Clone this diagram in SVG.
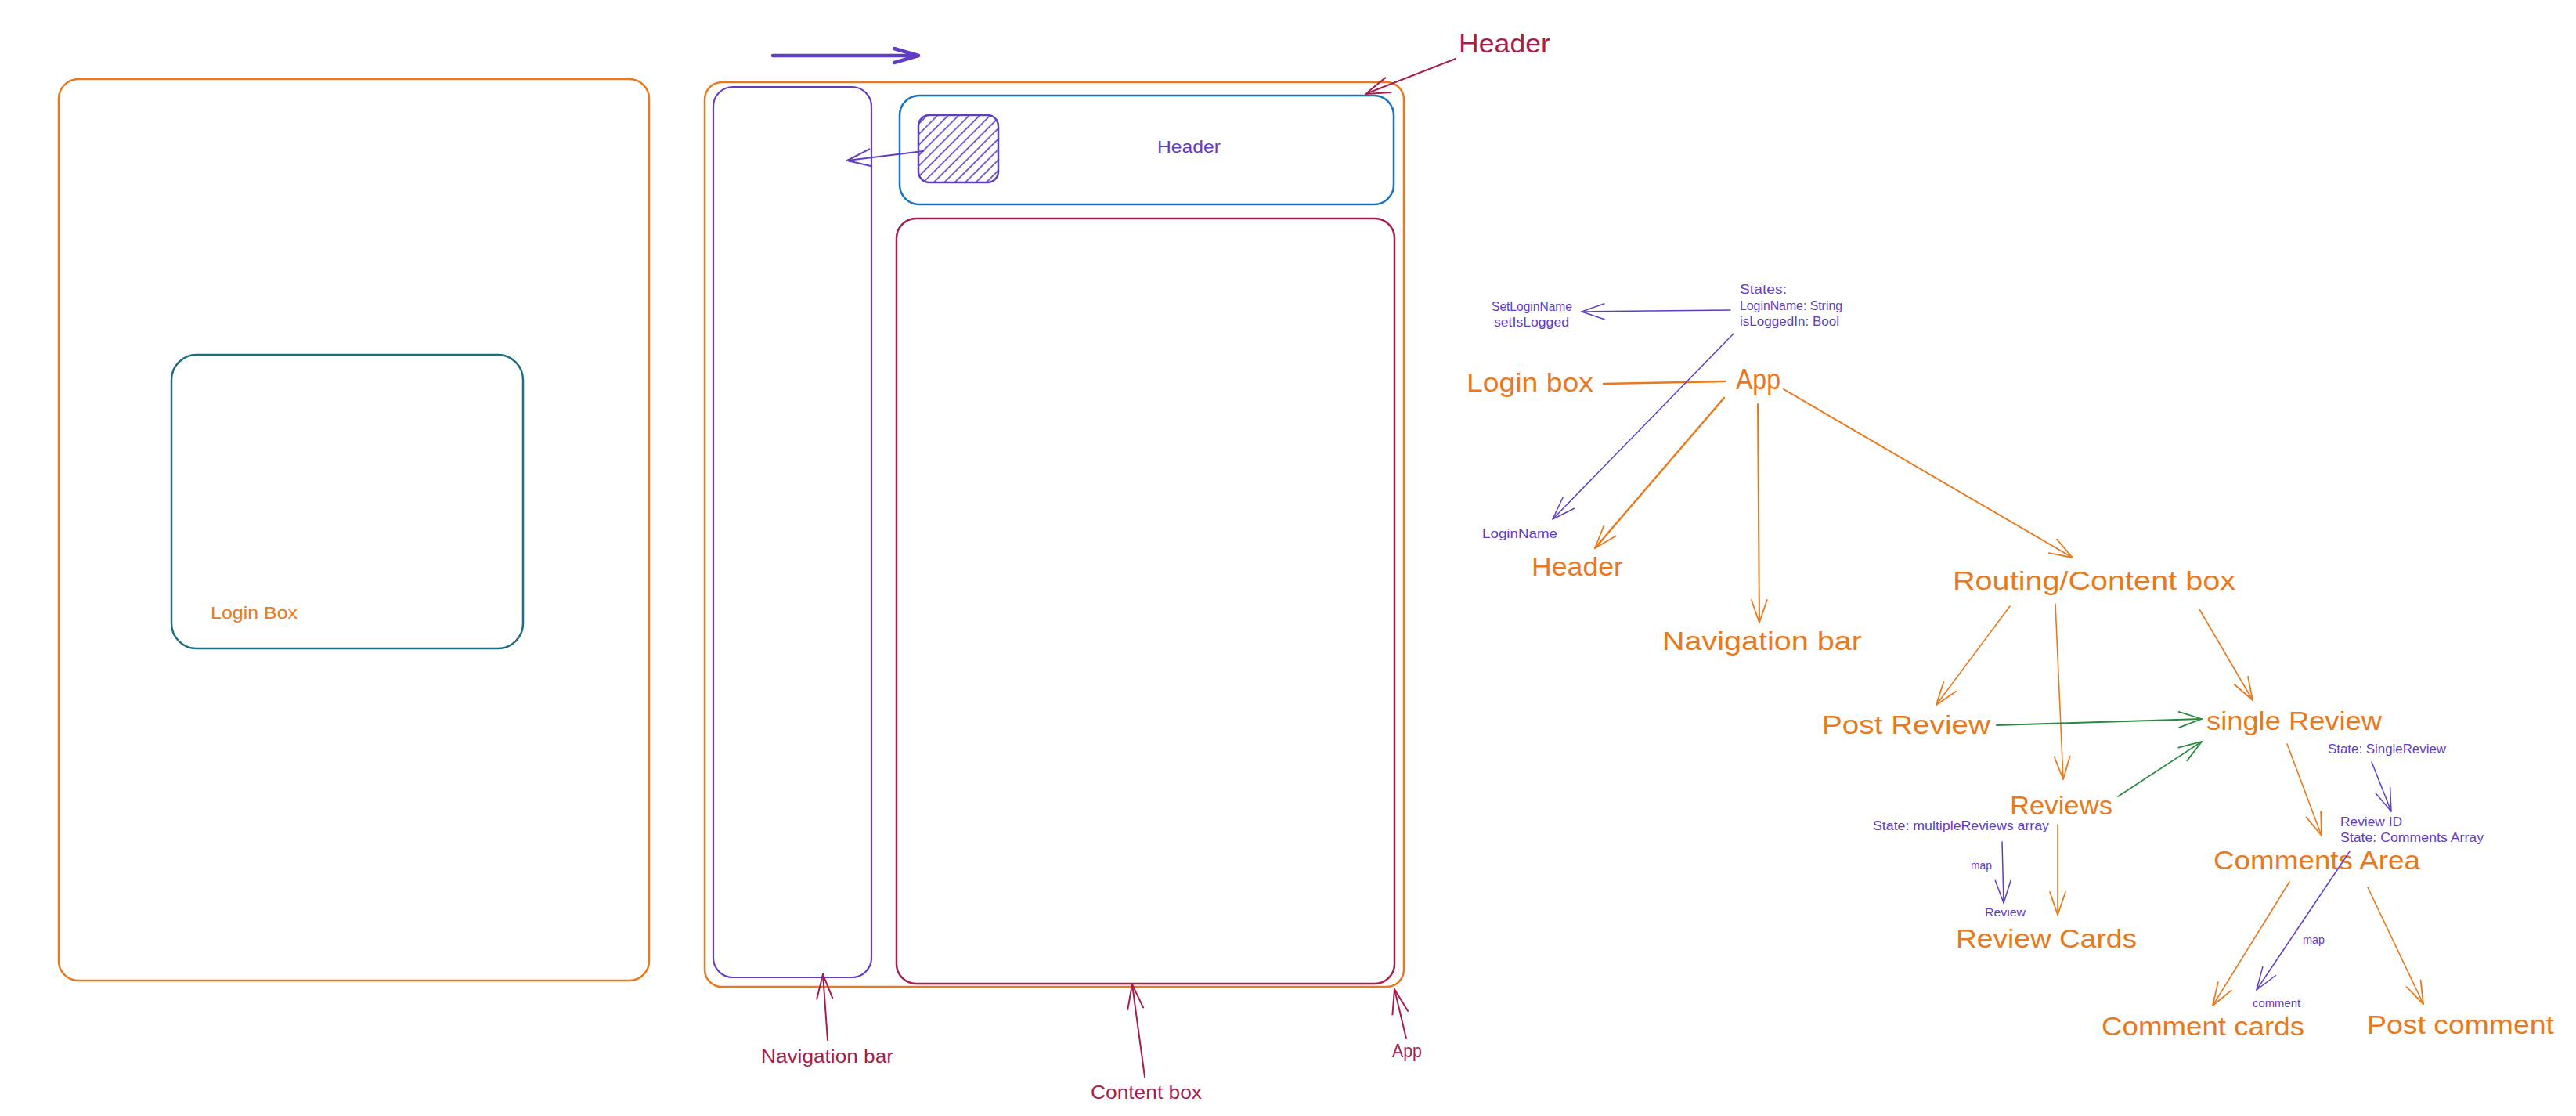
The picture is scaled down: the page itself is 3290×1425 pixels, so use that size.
<svg xmlns="http://www.w3.org/2000/svg" width="3290" height="1425" viewBox="0 0 3290 1425">
<style>
text{font-family:"Liberation Sans","Noto Sans",Arial,sans-serif}
.box{fill:none;stroke-linejoin:round}
.or{stroke:#e8791d}.vi{stroke:#5f3dc4}.cr{stroke:#a61e4d}.bl{stroke:#1971c2}.te{stroke:#1c6e80}.gr{stroke:#2b8a3e}
.c{fill:none;stroke-linecap:round;stroke-linejoin:round}
.tO{fill:#e8791d}.tV{fill:#5f3dc4}.tC{fill:#a61e4d}
.big{font-size:34px}.mid{font-size:24px}.sm{font-size:17px}.xs{font-size:14px}
</style>
<defs>
<pattern id="hatch" patternUnits="userSpaceOnUse" width="9.5" height="9.5" patternTransform="rotate(45)">
<line x1="1" y1="0" x2="1" y2="9.5" stroke="#5f3dc4" stroke-width="1.6"/>
</pattern>
<marker id="aO" markerUnits="userSpaceOnUse" markerWidth="60" markerHeight="40" viewBox="-40 -20 60 40" refX="0" refY="0" orient="auto" overflow="visible"><path d="M-29,-10 L0,0 L-29,10" fill="none" stroke="#e8791d" stroke-width="1.8" stroke-linecap="round" stroke-linejoin="round"/></marker>
<marker id="aV" markerUnits="userSpaceOnUse" markerWidth="60" markerHeight="40" viewBox="-40 -20 60 40" refX="0" refY="0" orient="auto" overflow="visible"><path d="M-29,-10 L0,0 L-29,10" fill="none" stroke="#5f3dc4" stroke-width="1.5" stroke-linecap="round" stroke-linejoin="round"/></marker>
<marker id="aVb" markerUnits="userSpaceOnUse" markerWidth="60" markerHeight="40" viewBox="-40 -20 60 40" refX="0" refY="0" orient="auto" overflow="visible"><path d="M-31,-9 L0,0 L-31,9" fill="none" stroke="#5f3dc4" stroke-width="4.5" stroke-linecap="round" stroke-linejoin="round"/></marker>
<marker id="aV2" markerUnits="userSpaceOnUse" markerWidth="60" markerHeight="40" viewBox="-40 -20 60 40" refX="0" refY="0" orient="auto" overflow="visible"><path d="M-30,-11 L0,0 L-30,11" fill="none" stroke="#5f3dc4" stroke-width="2" stroke-linecap="round" stroke-linejoin="round"/></marker>
<marker id="aC" markerUnits="userSpaceOnUse" markerWidth="60" markerHeight="40" viewBox="-40 -20 60 40" refX="0" refY="0" orient="auto" overflow="visible"><path d="M-31,-10 L0,0 L-31,10" fill="none" stroke="#a61e4d" stroke-width="2" stroke-linecap="round" stroke-linejoin="round"/></marker>
<marker id="aG" markerUnits="userSpaceOnUse" markerWidth="60" markerHeight="40" viewBox="-40 -20 60 40" refX="0" refY="0" orient="auto" overflow="visible"><path d="M-29,-10 L0,0 L-29,10" fill="none" stroke="#2b8a3e" stroke-width="1.8" stroke-linecap="round" stroke-linejoin="round"/></marker>
</defs>
<rect width="3290" height="1425" fill="#ffffff"/>

<!-- Left panel -->
<g id="login-page">
<rect class="box or" x="75" y="101" width="754" height="1151" rx="25" stroke-width="2.5"/>
</g>
<g id="login-box">
<rect class="box te" x="219" y="453" width="449" height="375" rx="32" stroke-width="2.5"/>
<text class="tO" x="269" y="790" font-size="22" textLength="111" lengthAdjust="spacingAndGlyphs">Login Box</text>
</g>

<!-- Middle panel -->
<g id="app-frame">
<rect class="box or" x="900" y="105" width="893" height="1155" rx="22" stroke-width="2.5"/>
</g>
<g id="nav-frame">
<rect class="box vi" x="911" y="111" width="202" height="1137" rx="25" stroke-width="2.2"/>
</g>
<g id="header-frame">
<rect class="box bl" x="1149" y="122" width="631" height="139" rx="25" stroke-width="2.5"/>
<text class="tV" x="1478" y="195" font-size="22" textLength="81" lengthAdjust="spacingAndGlyphs">Header</text>
</g>
<g id="hatch-button">
<rect x="1173" y="147" width="102" height="86" rx="14" fill="url(#hatch)" stroke="#5f3dc4" stroke-width="2.5"/>
</g>
<g id="content-frame">
<rect class="box cr" x="1145" y="279" width="636" height="977" rx="25" stroke-width="2.5"/>
</g>
<g id="label-header"><text class="tC" x="1863" y="67" font-size="34" textLength="117" lengthAdjust="spacingAndGlyphs">Header</text></g>
<g id="label-navigation"><text class="tC" x="972" y="1357" font-size="24" textLength="169" lengthAdjust="spacingAndGlyphs">Navigation bar</text></g>
<g id="label-content"><text class="tC" x="1393" y="1403" font-size="24" textLength="142" lengthAdjust="spacingAndGlyphs">Content box</text></g>
<g id="label-app"><text class="tC" x="1778" y="1350" font-size="24" textLength="38" lengthAdjust="spacingAndGlyphs">App</text></g>

<!-- Tree nodes -->
<g id="states"><text class="tV sm">
<tspan x="2222" y="375" textLength="60" lengthAdjust="spacingAndGlyphs">States:</tspan>
<tspan x="2222" y="396" textLength="131" lengthAdjust="spacingAndGlyphs">LoginName: String</tspan>
<tspan x="2222" y="416" textLength="127" lengthAdjust="spacingAndGlyphs">isLoggedIn: Bool</tspan></text></g>
<g id="setters"><text class="tV sm">
<tspan x="1905" y="397" textLength="103" lengthAdjust="spacingAndGlyphs">SetLoginName</tspan>
<tspan x="1908" y="417" textLength="96" lengthAdjust="spacingAndGlyphs">setIsLogged</tspan></text></g>
<g id="loginname-prop"><text class="tV sm" x="1893" y="687" textLength="96" lengthAdjust="spacingAndGlyphs">LoginName</text></g>
<g id="node-loginbox"><text class="tO big" x="1873" y="500" textLength="162" lengthAdjust="spacingAndGlyphs">Login box</text></g>
<g id="node-app"><text class="tO" x="2217" y="497" font-size="36" textLength="57" lengthAdjust="spacingAndGlyphs">App</text></g>
<g id="node-header"><text class="tO big" x="1956" y="735" textLength="117" lengthAdjust="spacingAndGlyphs">Header</text></g>
<g id="node-nav"><text class="tO big" x="2123" y="830" textLength="255" lengthAdjust="spacingAndGlyphs">Navigation bar</text></g>
<g id="node-routing"><text class="tO big" x="2494" y="753" textLength="361" lengthAdjust="spacingAndGlyphs">Routing/Content box</text></g>
<g id="node-postreview"><text class="tO big" x="2327" y="937" textLength="215" lengthAdjust="spacingAndGlyphs">Post Review</text></g>
<g id="node-single"><text class="tO big" x="2818" y="932" textLength="224" lengthAdjust="spacingAndGlyphs">single Review</text></g>
<g id="node-reviews"><text class="tO big" x="2567" y="1040" textLength="131" lengthAdjust="spacingAndGlyphs">Reviews</text></g>
<g id="state-multi"><text class="tV" font-size="16" x="2392" y="1060" textLength="225" lengthAdjust="spacingAndGlyphs">State: multipleReviews array</text></g>
<g id="map1"><text class="tV xs" x="2517" y="1110" textLength="27" lengthAdjust="spacingAndGlyphs">map</text></g>
<g id="review-prop"><text class="tV" font-size="15" x="2535" y="1170" textLength="52" lengthAdjust="spacingAndGlyphs">Review</text></g>
<g id="node-reviewcards"><text class="tO big" x="2498" y="1210" textLength="231" lengthAdjust="spacingAndGlyphs">Review Cards</text></g>
<g id="state-single"><text class="tV" font-size="16" x="2973" y="962" textLength="151" lengthAdjust="spacingAndGlyphs">State: SingleReview</text></g>
<g id="comments-props"><text class="tV" font-size="16">
<tspan x="2989" y="1055" textLength="79" lengthAdjust="spacingAndGlyphs">Review ID</tspan>
<tspan x="2989" y="1075" textLength="183" lengthAdjust="spacingAndGlyphs">State: Comments Array</tspan></text></g>
<g id="node-comments"><text class="tO big" x="2827" y="1110" textLength="264" lengthAdjust="spacingAndGlyphs">Comments Area</text></g>
<g id="map2"><text class="tV xs" x="2941" y="1205" textLength="28" lengthAdjust="spacingAndGlyphs">map</text></g>
<g id="comment-prop"><text class="tV" font-size="15" x="2877" y="1286" textLength="61" lengthAdjust="spacingAndGlyphs">comment</text></g>
<g id="node-commentcards"><text class="tO big" x="2684" y="1322" textLength="259" lengthAdjust="spacingAndGlyphs">Comment cards</text></g>
<g id="node-postcomment"><text class="tO big" x="3023" y="1320" textLength="239" lengthAdjust="spacingAndGlyphs">Post comment</text></g>

<!-- Connectors -->
<g id="connectors">
<path class="c vi" d="M987,71 L1173,71" stroke-width="4.5" marker-end="url(#aVb)"/>
<path class="c vi" d="M1179,193 L1082,205" stroke-width="2" marker-end="url(#aV2)"/>
<path class="c cr" d="M1859,75 L1744,120" stroke-width="2" marker-end="url(#aC)"/>
<path class="c cr" d="M1057,1328 L1051,1244" stroke-width="2" marker-end="url(#aC)"/>
<path class="c cr" d="M1462,1375 L1446,1257" stroke-width="2" marker-end="url(#aC)"/>
<path class="c cr" d="M1796,1326 L1781,1263" stroke-width="2" marker-end="url(#aC)"/>

<path class="c or" d="M2048,490 L2203,487" stroke-width="2.5"/>
<path class="c or" d="M2202,508 L2037,700" stroke-width="2.5" marker-end="url(#aO)"/>
<path class="c or" d="M2245,516 L2247,795" stroke-width="2" marker-end="url(#aO)"/>
<path class="c or" d="M2278,497 L2647,712" stroke-width="2" marker-end="url(#aO)"/>
<path class="c or" d="M2567,774 L2473,900" stroke-width="1.6" marker-end="url(#aO)"/>
<path class="c or" d="M2625,771 L2635,995" stroke-width="1.6" marker-end="url(#aO)"/>
<path class="c or" d="M2809,778 L2877,894" stroke-width="1.6" marker-end="url(#aO)"/>
<path class="c or" d="M2921,950 L2965,1067" stroke-width="1.6" marker-end="url(#aO)"/>
<path class="c or" d="M2628,1053 L2628,1168" stroke-width="1.6" marker-end="url(#aO)"/>
<path class="c or" d="M2924,1126 L2826,1284" stroke-width="1.6" marker-end="url(#aO)"/>
<path class="c or" d="M3024,1133 L3095,1282" stroke-width="1.6" marker-end="url(#aO)"/>

<path class="c gr" d="M2550,926 L2812,918" stroke-width="2" marker-end="url(#aG)"/>
<path class="c gr" d="M2705,1017 L2812,947" stroke-width="1.8" marker-end="url(#aG)"/>

<path class="c vi" d="M2210,396 L2020,398" stroke-width="1.5" marker-end="url(#aV)"/>
<path class="c vi" d="M2214,426 L1983,663" stroke-width="1.5" marker-end="url(#aV)"/>
<path class="c vi" d="M2557,1075 L2559,1153" stroke-width="1.5" marker-end="url(#aV)"/>
<path class="c vi" d="M3029,973 L3054,1036" stroke-width="1.5" marker-end="url(#aV)"/>
<path class="c vi" d="M3001,1087 L2882,1264" stroke-width="1.5" marker-end="url(#aV)"/>
</g>
</svg>
